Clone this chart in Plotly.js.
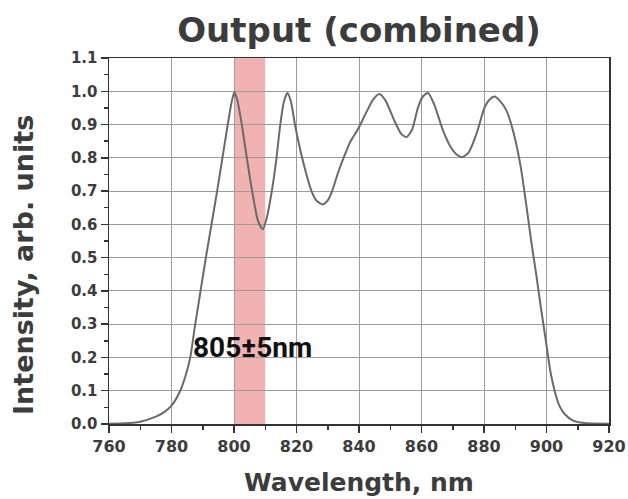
<!DOCTYPE html>
<html>
<head>
<meta charset="utf-8">
<script src="https://cdn.plot.ly/plotly-3.0.1.min.js"></script>
<style>html,body{margin:0;padding:0;background:#fff;}#chart{width:628px;height:499px;}</style>
</head>
<body>
<div id="chart"></div>
<script>
// Wavelength (nm) and combined output intensity (arb. units)
const wavelength = [760, 765, 770, 775, 778, 780, 782.8, 784.5, 786, 787.6, 789.3, 791.0, 792.8, 794.6, 796.3, 798, 799.3, 800.1, 801, 802.5, 804.1, 805.8, 807.7, 809.2, 810.5, 812.1, 813.6, 814.8, 816, 817.1, 818.2, 819.5, 821.8, 824.8, 826.5, 828.4, 830, 831.4, 833.3, 835.5, 837.3, 839.6, 842, 844.5, 846.5, 848.5, 851.3, 853.5, 855.2, 857, 858.9, 860.5, 862.1, 864, 866.9, 869.5, 871.2, 873, 875, 877.6, 880.2, 881.8, 883.4, 885, 887.2, 889.6, 891.8, 893.5, 895.1, 896.7, 898.2, 899.8, 901.3, 902.6, 904.1, 905.8, 908.5, 912, 920];
const intensity = [0.001, 0.002, 0.007, 0.022, 0.038, 0.055, 0.1, 0.145, 0.2, 0.3, 0.4, 0.5, 0.6, 0.7, 0.8, 0.9, 0.97, 0.997, 0.975, 0.9, 0.8, 0.7, 0.61, 0.585, 0.62, 0.7, 0.8, 0.9, 0.97, 0.995, 0.97, 0.9, 0.8, 0.7, 0.67, 0.66, 0.672, 0.7, 0.755, 0.81, 0.85, 0.885, 0.93, 0.975, 0.992, 0.972, 0.912, 0.872, 0.862, 0.885, 0.952, 0.985, 0.995, 0.962, 0.882, 0.83, 0.81, 0.802, 0.815, 0.872, 0.952, 0.975, 0.984, 0.972, 0.942, 0.87, 0.77, 0.66, 0.55, 0.45, 0.35, 0.25, 0.155, 0.1, 0.055, 0.03, 0.01, 0.003, 0.001];
// Highlighted band
const bandRange = [800, 810];
const bandLabel = "805±5nm";
const bandLabelPos = [806, 0.23];
const titleText = "Output (combined)";
const xTitle = "Wavelength, nm";
const yTitle = "Intensity, arb. units";

const textColor = "#3c3c3c";
const boldFont = "DejaVu Sans, Liberation Sans, Arial, sans-serif";

const trace = {
  x: wavelength, y: intensity, type: "scatter", mode: "lines",
  line: {color: "#6a6a6a", width: 2, shape: "spline", smoothing: 0.6},
  hoverinfo: "skip", showlegend: false
};

const layout = {
  width: 628, height: 499,
  margin: {l: 109, r: 19, t: 58, b: 75, pad: 0},
  paper_bgcolor: "#ffffff", plot_bgcolor: "#ffffff",
  title: {
    text: titleText, x: 0.5, xref: "paper", xanchor: "center",
    y: 1 - 30 / 499, yref: "container", yanchor: "middle",
    font: {family: boldFont, size: 34, weight: "bold", color: textColor}
  },
  xaxis: {
    range: [760, 920], dtick: 20, tick0: 760,
    showgrid: true, gridcolor: "#9c9c9c", gridwidth: 1,
    showline: true, linecolor: "#333", linewidth: 1.5, mirror: true,
    ticks: "outside", ticklen: 7, tickcolor: "#333", tickwidth: 1.5,
    minor: {dtick: 10, ticks: "outside", ticklen: 4, tickcolor: "#333", showgrid: false},
    zeroline: false,
    tickfont: {family: boldFont, size: 16, weight: "bold", color: textColor},
    title: {text: xTitle, standoff: 19, font: {family: boldFont, size: 25, weight: "bold", color: textColor}}
  },
  yaxis: {
    range: [0, 1.1], dtick: 0.1, tick0: 0, tickformat: ".1f",
    showgrid: true, gridcolor: "#9c9c9c", gridwidth: 1,
    showline: true, linecolor: "#333", linewidth: 1.5, mirror: true,
    ticks: "outside", ticklen: 7, tickcolor: "#333", tickwidth: 1.5,
    minor: {dtick: 0.05, ticks: "outside", ticklen: 4, tickcolor: "#333", showgrid: false},
    zeroline: false,
    tickfont: {family: boldFont, size: 15, weight: "bold", color: textColor}
  },
  shapes: [{
    type: "rect", xref: "x", yref: "paper",
    x0: bandRange[0], x1: bandRange[1], y0: 0, y1: 1,
    fillcolor: "#f1b2b2", line: {width: 0}, layer: "below"
  }],
  annotations: [{
    x: bandLabelPos[0], y: bandLabelPos[1], xref: "x", yref: "y",
    text: bandLabel, showarrow: false, xanchor: "center", yanchor: "middle",
    font: {family: "Roboto, Liberation Sans, sans-serif", size: 28, weight: "bold", color: "#111"}
  }, {
    // y-axis title (placed as rotated text to match its lower position in the reference)
    x: (23 - 109) / (628 - 109 - 19), y: (424 - 265) / 366, xref: "paper", yref: "paper",
    xanchor: "center", yanchor: "middle", textangle: -90, showarrow: false,
    text: yTitle,
    font: {family: boldFont, size: 27, weight: "bold", color: textColor}
  }]
};

Plotly.newPlot("chart", [trace], layout, {displayModeBar: false, staticPlot: true});
</script>
</body>
</html>
